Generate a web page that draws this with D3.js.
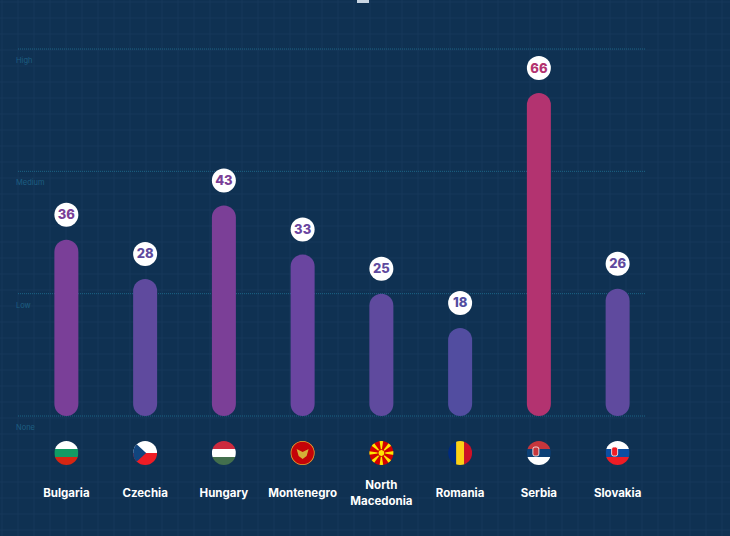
<!DOCTYPE html>
<html><head><meta charset="utf-8">
<script src="https://cdn.jsdelivr.net/npm/d3@7"></script>
<style>
body{margin:0;background:#0f3152;}
text{font-family:"Inter","Roboto",sans-serif;}
</style></head>
<body><svg id="c" width="730" height="536"></svg>
<script>
var countries = ["Bulgaria","Czechia","Hungary","Montenegro","North Macedonia","Romania","Serbia","Slovakia"];
var values = [36, 28, 43, 33, 25, 18, 66, 26];
var barColors = ["#7a3f98","#5f4a9e","#7b3f97","#6a45a0","#5f4a9e","#524da0","#b33370","#5f4a9e"];
var levels = [0, 25, 50, 75];
var levelLabels = ["None","Low","Medium","High"];
// flag stripes (horizontal unless vertical)
var flags = [
  {dir:"h", c:["#ffffff","#119b64","#d62612"]},
  {dir:"cz"},
  {dir:"h", c:["#cd2a3e","#ffffff","#436f4d"]},
  {dir:"me"},
  {dir:"mk"},
  {dir:"v", c:["#002b7f","#fcd116","#ce1126"]},
  {dir:"h", c:["#c6363c","#0c4076","#ffffff"], emb:"#c6363c"},
  {dir:"h", c:["#ffffff","#0b4ea2","#ee1c25"], emb:"#ee1c25"}
];

var svg = d3.select("#c");
var W = 730, H = 536;

// background grid
var grid = svg.append("g");
for (var gx = 2; gx < W; gx += 16) grid.append("line").attr("x1", gx).attr("x2", gx).attr("y1", 0).attr("y2", H).attr("stroke", "#16395b").attr("stroke-width", 1);
for (var gy = 2; gy < H; gy += 16) grid.append("line").attr("y1", gy).attr("y2", gy).attr("x1", 0).attr("x2", W).attr("stroke", "#16395b").attr("stroke-width", 1);
svg.append("rect").attr("x", 357).attr("y", 0).attr("width", 12).attr("height", 3).attr("fill", "#c9d6e3");

var y = d3.scaleLinear().domain([0, 75]).range([416, 49]);
var x = d3.scaleBand().domain(countries).range([27, 657]).paddingInner(0);

levels.forEach(function(l, i) {
  svg.append("line").attr("x1", 18).attr("x2", 645).attr("y1", y(l)).attr("y2", y(l))
    .attr("stroke", "#1c6485").attr("stroke-width", 1).attr("stroke-dasharray", "1,1");
  svg.append("text").attr("x", 16).attr("y", y(l) + 14).attr("font-size", 7.5)
    .attr("fill", "#1d5f82").text(levelLabels[i]);
});

var bw = 24;
var g = svg.selectAll(".bar").data(countries).enter().append("g")
  .attr("transform", function(d) { return "translate(" + (x(d) + x.bandwidth() / 2) + ",0)"; });

g.append("rect").attr("x", -bw / 2).attr("width", bw)
  .attr("y", function(d, i) { return y(values[i]); })
  .attr("height", function(d, i) { return y(0) - y(values[i]); })
  .attr("rx", bw / 2).attr("fill", function(d, i) { return barColors[i]; });

g.append("circle").attr("r", 12).attr("cy", function(d, i) { return y(values[i]) - 25; }).attr("fill", "#fff");
g.append("text").attr("text-anchor", "middle").attr("font-size", 13).attr("font-weight", 800)
  .attr("y", function(d, i) { return y(values[i]) - 20.5; })
  .attr("fill", function(d, i) { return barColors[i]; })
  .text(function(d, i) { return values[i]; });

// flags
g.each(function(d, i) {
  var f = flags[i], s = d3.select(this).append("g").attr("transform", "translate(0,453)");
  var id = "clip" + i;
  s.append("clipPath").attr("id", id).append("circle").attr("r", 12);
  var c = s.append("g").attr("clip-path", "url(#" + id + ")");
  if (f.dir === "h") {
    f.c.forEach(function(col, k) { c.append("rect").attr("x", -12).attr("y", -12 + k * 8).attr("width", 24).attr("height", 8.2).attr("fill", col); });
    if (f.emb) c.append("rect").attr("x", -6).attr("y", -6).attr("width", 6).attr("height", 9).attr("rx", 2).attr("fill", f.emb).attr("stroke", "#fff").attr("stroke-width", 0.8);
  } else if (f.dir === "v") {
    f.c.forEach(function(col, k) { c.append("rect").attr("y", -12).attr("x", -12 + k * 8).attr("height", 24).attr("width", 8.2).attr("fill", col); });
  } else if (f.dir === "cz") {
    c.append("rect").attr("x", -12).attr("y", -12).attr("width", 24).attr("height", 12).attr("fill", "#fff");
    c.append("rect").attr("x", -12).attr("y", 0).attr("width", 24).attr("height", 12).attr("fill", "#ee1c25");
    c.append("path").attr("d", "M-12,-12L1,0L-12,12Z").attr("fill", "#11457e");
  } else if (f.dir === "me") {
    c.append("rect").attr("x", -12).attr("y", -12).attr("width", 24).attr("height", 24).attr("fill", "#c40308");
    c.append("circle").attr("r", 12).attr("fill", "none").attr("stroke", "#d4af37").attr("stroke-width", 1.5);
    c.append("path").attr("d", "M-6,-4L0,-1L6,-4L4,3L0,6L-4,3Z").attr("fill", "#d4af37");
  } else if (f.dir === "mk") {
    c.append("rect").attr("x", -12).attr("y", -12).attr("width", 24).attr("height", 24).attr("fill", "#d20000");
    for (var a = 0; a < 8; a++) {
      var ang = a * Math.PI / 4;
      c.append("path").attr("d", "M0,0L" + 14 * Math.cos(ang - 0.15) + "," + 14 * Math.sin(ang - 0.15) + "L" + 14 * Math.cos(ang + 0.15) + "," + 14 * Math.sin(ang + 0.15) + "Z").attr("fill", "#ffe600");
    }
    c.append("circle").attr("r", 3.5).attr("fill", "#ffe600").attr("stroke", "#d20000").attr("stroke-width", 1);
  }
});

g.append("text").attr("text-anchor", "middle").attr("font-size", 11.5).attr("font-weight", 700)
  .attr("fill", "#fff")
  .each(function(d) {
    var words = d.split(" "), t = d3.select(this);
    if (words.length === 1) t.append("tspan").attr("x", 0).attr("y", 497).text(d);
    else words.forEach(function(w, k) { t.append("tspan").attr("x", 0).attr("y", 489 + k * 16).text(w); });
  });
</script></body></html>
